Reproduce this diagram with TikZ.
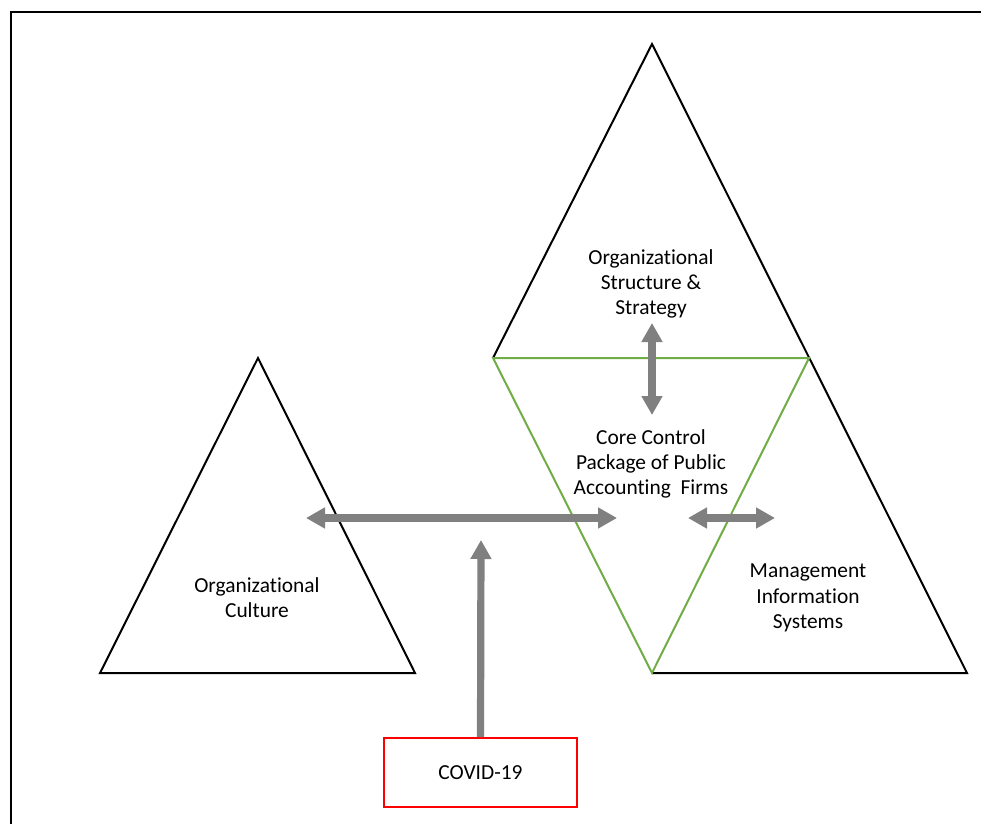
\documentclass[tikz,border=0pt]{standalone}
\usepackage{fontspec}
\setmainfont{Carlito}[Ligatures=NoCommon]
\usetikzlibrary{arrows.meta,positioning}
\definecolor{offgreen}{RGB}{112,173,71}
\definecolor{arrgray}{RGB}{128,128,128}
\tikzset{
    tri/.style={draw=black, line width=1pt, line join=miter},
    core/.style={draw=offgreen, line width=1pt},
    lbl/.style={align=center, inner sep=0pt, font=\fontsize{10.7}{12.6}\selectfont},
    dbl/.style={draw=arrgray, line width=3.6pt,
        {Triangle[length=9.5pt,width=10pt]}-{Triangle[length=9.5pt,width=10pt]}},
    sgl/.style={draw=arrgray, line width=3.6pt, -{Triangle[length=9.5pt,width=10pt]}},
    covidbox/.style={draw=red, line width=1pt, minimum width=96.5pt,
        minimum height=34.5pt, inner sep=0pt, font=\fontsize{10.7}{12.6}\selectfont}
}
\begin{document}
\begin{tikzpicture}[x=0.5pt,y=-0.5pt]
    \useasboundingbox (0,0) rectangle (981,824);
    \draw[line width=1pt] (11,824) -- (11,12) -- (981,12);
    % corners of the triangles
    \coordinate (T) at (652,44);
    \coordinate (L) at (493,358);
    \coordinate (R) at (809,358);
    \coordinate (B) at (652,673);
    \coordinate (RR) at (967,673);
    \coordinate (CT) at (258,358);
    \coordinate (CL) at (100,673);
    \coordinate (CR) at (415,673);
    \draw[tri] (L) -- (T) -- (RR) -- (B);
    \draw[tri] (CT) -- (CR) -- (CL) -- cycle;
    \draw[core] (L) -- (R) -- (B) -- cycle;
    % labels
    \node (strat) [lbl] at (651,284) {Organizational\\Structure \&\\Strategy};
    \node (ccp) [lbl] at (651,464) {Core Control\\Package of Public\\Accounting\ \ Firms};
    \node (culture) [lbl] at (257,598) {Organizational\\Culture};
    \node (mis) [lbl] at (808,598) {Management\\Information\\Systems};
    \node (covid) [covidbox] at (480.5,772.5) {COVID-19};
    % arrow ends
    \coordinate (v1) at (652,323);
    \coordinate (v2) at (652,415);
    \coordinate (h1) at (306,518);
    \coordinate (h2) at (617,518);
    \coordinate (m1) at (688,518);
    \coordinate (m2) at (775,518);
    \coordinate (up) at (481,540);
    \path (v1) edge [dbl] (v2);
    \path (h1) edge [dbl] (h2);
    \path (m1) edge [dbl] (m2);
    \path (covid.north) edge [sgl] (up);
\end{tikzpicture}
\end{document}
